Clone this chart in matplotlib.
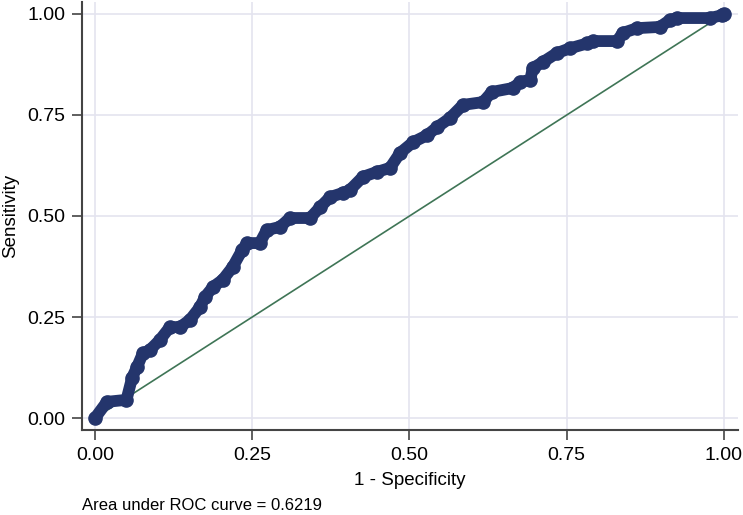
import numpy as np
import matplotlib.pyplot as plt

# ROC curve points (1 - specificity, sensitivity)
fpr = [0.000, 0.019, 0.050, 0.059, 0.067, 0.076, 0.087, 0.103, 0.119, 0.135,
       0.151, 0.167, 0.175, 0.188, 0.203, 0.219, 0.234, 0.242, 0.262, 0.273,
       0.294, 0.310, 0.342, 0.358, 0.374, 0.394, 0.405, 0.426, 0.448, 0.469,
       0.485, 0.506, 0.528, 0.544, 0.564, 0.585, 0.617, 0.631, 0.665, 0.676,
       0.692, 0.696, 0.712, 0.734, 0.755, 0.782, 0.792, 0.830, 0.839, 0.862,
       0.898, 0.914, 0.925, 0.978, 0.997, 1.000]
tpr = [0.000, 0.040, 0.045, 0.100, 0.127, 0.160, 0.168, 0.193, 0.225, 0.225,
       0.243, 0.275, 0.300, 0.325, 0.342, 0.374, 0.416, 0.433, 0.433, 0.465,
       0.473, 0.495, 0.495, 0.522, 0.547, 0.557, 0.564, 0.597, 0.609, 0.619,
       0.656, 0.683, 0.700, 0.720, 0.742, 0.775, 0.782, 0.807, 0.817, 0.832,
       0.837, 0.866, 0.881, 0.903, 0.915, 0.927, 0.933, 0.933, 0.953, 0.965,
       0.968, 0.985, 0.990, 0.990, 0.997, 1.000]
ticks = [0.0, 0.25, 0.5, 0.75, 1.0]
tick_labels = ["0.00", "0.25", "0.50", "0.75", "1.00"]
auc_text = "Area under ROC curve = 0.6219"

plt.rcParams['font.family'] = ['Liberation Sans', 'DejaVu Sans']

fig = plt.figure(figsize=(7.43, 5.15), dpi=100)
ax = fig.add_axes([82/743, 85/515, 656/743, 428/515])

ax.plot([0, 1], [0, 1], color='#3f7556', lw=1.2, zorder=2)
ax.plot(fpr, tpr, color='#24356c', lw=8.5, solid_capstyle='round',
        solid_joinstyle='round', marker='o', ms=9.5, zorder=3)

ax.set_xlim(-0.0207, 1.0223)
ax.set_ylim(-0.0297, 1.0297)
ax.set_xticks(ticks)
ax.set_xticklabels(tick_labels)
ax.set_yticks(ticks)
ax.set_yticklabels(tick_labels)
ax.grid(color='#e4e4ef', lw=1.2)
ax.set_axisbelow(True)

for s in ['top', 'right']:
    ax.spines[s].set_visible(False)
for s in ['left', 'bottom']:
    ax.spines[s].set_color('#444444')
    ax.spines[s].set_linewidth(1.5)
ax.tick_params(direction='out', length=7, width=1.2, color='#444444',
               labelsize=14, pad=5)

ax.set_xlabel("1 - Specificity", fontsize=13.5, labelpad=6)
ax.set_ylabel("Sensitivity", fontsize=13.5, labelpad=6)
fig.text(82/743, 1 - 506/515, auc_text, fontsize=12, va='center')

fig.savefig("out.png", dpi=100)
